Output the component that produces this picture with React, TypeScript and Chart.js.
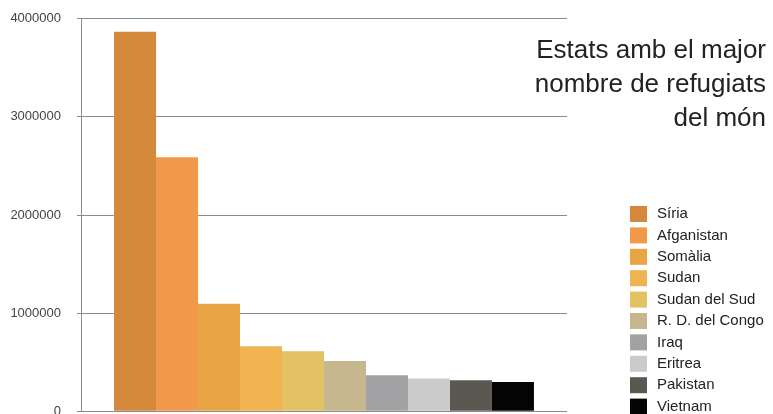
import { useEffect, useRef } from "react";
import { Chart, registerables } from "chart.js";

Chart.register(...registerables);

const countries = [
  "Síria",
  "Afganistan",
  "Somàlia",
  "Sudan",
  "Sudan del Sud",
  "R. D. del Congo",
  "Iraq",
  "Eritrea",
  "Pakistan",
  "Vietnam",
];
const refugees = [3868000, 2588000, 1096000, 662000, 611000, 512000, 366000, 333000, 316000, 298000];
const colors = [
  "#D3883A",
  "#F1984A",
  "#E9A444",
  "#EFB350",
  "#E2C263",
  "#C6B78F",
  "#A2A2A4",
  "#CBCBCB",
  "#5A5850",
  "#040404",
];
const titleLines = ["Estats amb el major", "nombre de refugiats", "del món"];
const yTicks = [0, 1000000, 2000000, 3000000, 4000000];

const FONT = '"Liberation Sans", Arial, sans-serif';
const SHIFT = 5; // canvas is moved up by this many pixels

const overlayPlugin = {
  id: "overlay",
  afterDraw(chart: any) {
    const ctx = chart.ctx as CanvasRenderingContext2D;
    ctx.save();
    ctx.fillStyle = "#222";
    ctx.font = `26px ${FONT}`;
    ctx.textAlign = "right";
    ctx.textBaseline = "alphabetic";
    titleLines.forEach((t, i) => ctx.fillText(t, 766, SHIFT + 58 + i * 34));

    ctx.font = `15px ${FONT}`;
    ctx.textAlign = "left";
    ctx.textBaseline = "middle";
    chart.data.datasets.forEach((ds: any, i: number) => {
      const top = SHIFT + 206 + i * 21.4;
      ctx.fillStyle = ds.backgroundColor;
      ctx.fillRect(630, top, 17, 16);
      ctx.fillStyle = "#222";
      ctx.fillText(ds.label, 657, top + 8);
    });
    ctx.restore();
  },
};

export default function App() {
  const ref = useRef<HTMLCanvasElement | null>(null);

  useEffect(() => {
    if (!ref.current) return;
    const chart = new Chart(ref.current, {
      type: "bar",
      data: {
        labels: [""],
        datasets: countries.map((c, i) => ({
          label: c,
          data: [refugees[i]],
          backgroundColor: colors[i],
          borderWidth: 0,
        })),
      },
      options: {
        responsive: false,
        animation: false,
        layout: { padding: { left: 0, right: 206, top: 0, bottom: 0 } },
        datasets: { bar: { categoryPercentage: 0.864, barPercentage: 1 } },
        plugins: {
          legend: { display: false },
          tooltip: { enabled: false },
          title: { display: false },
        },
        scales: {
          x: { display: false },
          y: {
            min: yTicks[0],
            max: yTicks[yTicks.length - 1],
            ticks: {
              stepSize: yTicks[1] - yTicks[0],
              callback: (v: any) => String(v),
              color: "#444",
              font: { family: FONT, size: 13 },
              padding: 16,
            },
            grid: { color: "#8c8c8c", tickLength: 4, lineWidth: 1 },
            border: { color: "#8c8c8c" },
            afterFit: (s: any) => {
              s.width = 81;
            },
          },
        },
      },
      plugins: [overlayPlugin],
    } as any);
    return () => chart.destroy();
  }, []);

  return (
    <div
      style={{
        position: "absolute",
        left: 0,
        top: 0,
        width: 773,
        height: 414,
        overflow: "hidden",
        background: "#fff",
      }}
    >
      <canvas
        ref={ref}
        width={773}
        height={440}
        style={{ display: "block", position: "absolute", left: 0, top: -SHIFT, width: 773, height: 440 }}
      />
    </div>
  );
}
